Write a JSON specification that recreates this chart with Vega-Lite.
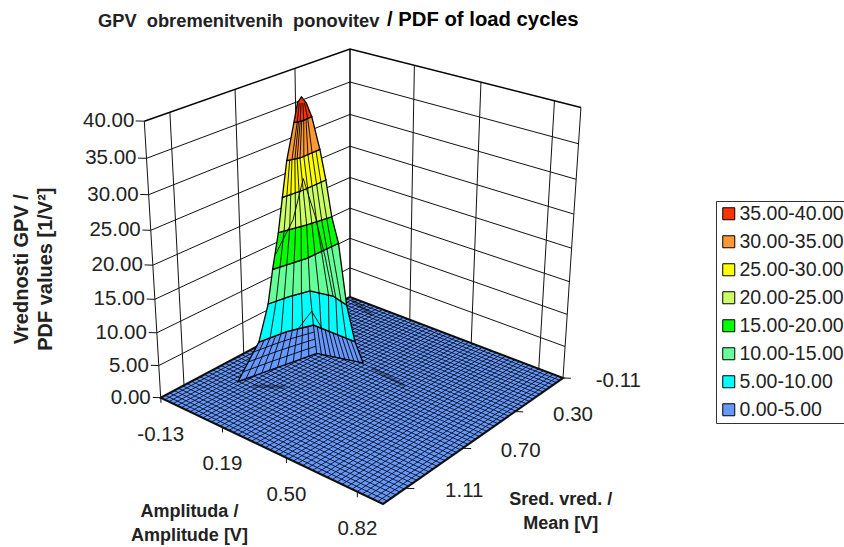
{"$schema":"https://vega.github.io/schema/vega-lite/v6.json","width":844,"height":547,"padding":0,"autosize":{"type":"none"},"background":"white",
"title":{"text":"GPV\u00a0\u00a0obremenitvenih\u00a0\u00a0ponovitev","anchor":"start","frame":"group","orient":"top","offset":-31,"dx":98,"font":"Liberation Sans","fontSize":18.3,"fontWeight":"bold","color":"#222222"},
"config":{"view":{"stroke":null},"text":{"font":"Liberation Sans","color":"#222222"}},
"data":{"values":[
{"g":"wall","id":"z5","ord":1,"amp":-0.13,"mean":1.31,"pdf":5},{"g":"wall","id":"z5","ord":2,"amp":-0.13,"mean":-0.11,"pdf":5},{"g":"wall","id":"z5","ord":3,"amp":0.93,"mean":-0.11,"pdf":5},
{"g":"wall","id":"z10","ord":1,"amp":-0.13,"mean":1.31,"pdf":10},{"g":"wall","id":"z10","ord":2,"amp":-0.13,"mean":-0.11,"pdf":10},{"g":"wall","id":"z10","ord":3,"amp":0.93,"mean":-0.11,"pdf":10},
{"g":"wall","id":"z15","ord":1,"amp":-0.13,"mean":1.31,"pdf":15},{"g":"wall","id":"z15","ord":2,"amp":-0.13,"mean":-0.11,"pdf":15},{"g":"wall","id":"z15","ord":3,"amp":0.93,"mean":-0.11,"pdf":15},
{"g":"wall","id":"z20","ord":1,"amp":-0.13,"mean":1.31,"pdf":20},{"g":"wall","id":"z20","ord":2,"amp":-0.13,"mean":-0.11,"pdf":20},{"g":"wall","id":"z20","ord":3,"amp":0.93,"mean":-0.11,"pdf":20},
{"g":"wall","id":"z25","ord":1,"amp":-0.13,"mean":1.31,"pdf":25},{"g":"wall","id":"z25","ord":2,"amp":-0.13,"mean":-0.11,"pdf":25},{"g":"wall","id":"z25","ord":3,"amp":0.93,"mean":-0.11,"pdf":25},
{"g":"wall","id":"z30","ord":1,"amp":-0.13,"mean":1.31,"pdf":30},{"g":"wall","id":"z30","ord":2,"amp":-0.13,"mean":-0.11,"pdf":30},{"g":"wall","id":"z30","ord":3,"amp":0.93,"mean":-0.11,"pdf":30},
{"g":"wall","id":"z35","ord":1,"amp":-0.13,"mean":1.31,"pdf":35},{"g":"wall","id":"z35","ord":2,"amp":-0.13,"mean":-0.11,"pdf":35},{"g":"wall","id":"z35","ord":3,"amp":0.93,"mean":-0.11,"pdf":35},
{"g":"wall","id":"m1","ord":1,"amp":-0.13,"mean":1.154,"pdf":0},{"g":"wall","id":"m1","ord":2,"amp":-0.13,"mean":1.154,"pdf":40},
{"g":"wall","id":"m2","ord":1,"amp":-0.13,"mean":0.732,"pdf":0},{"g":"wall","id":"m2","ord":2,"amp":-0.13,"mean":0.732,"pdf":40},
{"g":"wall","id":"m3","ord":1,"amp":-0.13,"mean":0.31,"pdf":0},{"g":"wall","id":"m3","ord":2,"amp":-0.13,"mean":0.31,"pdf":40},
{"g":"wall","id":"a1","ord":1,"amp":0.19,"mean":-0.11,"pdf":0},{"g":"wall","id":"a1","ord":2,"amp":0.19,"mean":-0.11,"pdf":40},
{"g":"wall","id":"a2","ord":1,"amp":0.50,"mean":-0.11,"pdf":0},{"g":"wall","id":"a2","ord":2,"amp":0.50,"mean":-0.11,"pdf":40},
{"g":"wall","id":"a3","ord":1,"amp":0.82,"mean":-0.11,"pdf":0},{"g":"wall","id":"a3","ord":2,"amp":0.82,"mean":-0.11,"pdf":40},
{"g":"wall","id":"eL","ord":1,"amp":-0.13,"mean":1.31,"pdf":0},{"g":"wall","id":"eL","ord":2,"amp":-0.13,"mean":1.31,"pdf":40},
{"g":"wall","id":"eR","ord":1,"amp":0.93,"mean":-0.11,"pdf":0},{"g":"wall","id":"eR","ord":2,"amp":0.93,"mean":-0.11,"pdf":40},
{"g":"tick","id":"t0","ord":1,"amp":-0.13,"mean":1.31,"pdf":0},{"g":"tick","id":"t0","ord":2,"amp":-0.154,"mean":1.333,"pdf":0},
{"g":"tick","id":"t5","ord":1,"amp":-0.13,"mean":1.31,"pdf":5},{"g":"tick","id":"t5","ord":2,"amp":-0.154,"mean":1.333,"pdf":5},
{"g":"tick","id":"t10","ord":1,"amp":-0.13,"mean":1.31,"pdf":10},{"g":"tick","id":"t10","ord":2,"amp":-0.154,"mean":1.333,"pdf":10},
{"g":"tick","id":"t15","ord":1,"amp":-0.13,"mean":1.31,"pdf":15},{"g":"tick","id":"t15","ord":2,"amp":-0.154,"mean":1.333,"pdf":15},
{"g":"tick","id":"t20","ord":1,"amp":-0.13,"mean":1.31,"pdf":20},{"g":"tick","id":"t20","ord":2,"amp":-0.154,"mean":1.333,"pdf":20},
{"g":"tick","id":"t25","ord":1,"amp":-0.13,"mean":1.31,"pdf":25},{"g":"tick","id":"t25","ord":2,"amp":-0.154,"mean":1.333,"pdf":25},
{"g":"tick","id":"t30","ord":1,"amp":-0.13,"mean":1.31,"pdf":30},{"g":"tick","id":"t30","ord":2,"amp":-0.154,"mean":1.333,"pdf":30},
{"g":"tick","id":"t35","ord":1,"amp":-0.13,"mean":1.31,"pdf":35},{"g":"tick","id":"t35","ord":2,"amp":-0.154,"mean":1.333,"pdf":35},
{"g":"tick","id":"t40","ord":1,"amp":-0.13,"mean":1.31,"pdf":40},{"g":"tick","id":"t40","ord":2,"amp":-0.154,"mean":1.333,"pdf":40},
{"g":"tick","id":"ta0","ord":1,"amp":-0.13,"mean":1.31,"pdf":0},{"g":"tick","id":"ta0","ord":2,"amp":-0.13,"mean":1.31,"pdf":-0.8},
{"g":"tick","id":"ta1","ord":1,"amp":0.19,"mean":1.31,"pdf":0},{"g":"tick","id":"ta1","ord":2,"amp":0.19,"mean":1.31,"pdf":-0.8},
{"g":"tick","id":"ta2","ord":1,"amp":0.50,"mean":1.31,"pdf":0},{"g":"tick","id":"ta2","ord":2,"amp":0.50,"mean":1.31,"pdf":-0.8},
{"g":"tick","id":"ta3","ord":1,"amp":0.82,"mean":1.31,"pdf":0},{"g":"tick","id":"ta3","ord":2,"amp":0.82,"mean":1.31,"pdf":-0.8},
{"g":"tick","id":"tm0","ord":1,"amp":0.93,"mean":-0.11,"pdf":0},{"g":"tick","id":"tm0","ord":2,"amp":0.954,"mean":-0.133,"pdf":0},
{"g":"tick","id":"tm1","ord":1,"amp":0.93,"mean":0.31,"pdf":0},{"g":"tick","id":"tm1","ord":2,"amp":0.954,"mean":0.287,"pdf":0},
{"g":"tick","id":"tm2","ord":1,"amp":0.93,"mean":0.732,"pdf":0},{"g":"tick","id":"tm2","ord":2,"amp":0.954,"mean":0.709,"pdf":0},
{"g":"tick","id":"tm3","ord":1,"amp":0.93,"mean":1.154,"pdf":0},{"g":"tick","id":"tm3","ord":2,"amp":0.954,"mean":1.131,"pdf":0},
{"g":"frame","id":"top","ord":1,"amp":-0.13,"mean":1.31,"pdf":40},{"g":"frame","id":"top","ord":2,"amp":-0.13,"mean":-0.11,"pdf":40},{"g":"frame","id":"top","ord":3,"amp":0.93,"mean":-0.11,"pdf":40},
{"g":"frame","id":"back","ord":1,"amp":-0.13,"mean":-0.11,"pdf":0},{"g":"frame","id":"back","ord":2,"amp":-0.13,"mean":-0.11,"pdf":40},
{"g":"floor","id":"f","ord":1,"amp":-0.13,"mean":-0.11,"pdf":0},{"g":"floor","id":"f","ord":2,"amp":0.93,"mean":-0.11,"pdf":0},{"g":"floor","id":"f","ord":3,"amp":0.93,"mean":1.31,"pdf":0},{"g":"floor","id":"f","ord":4,"amp":-0.13,"mean":1.31,"pdf":0},
{"g":"mesh","amp":-0.13,"mean":-0.11,"amp2":-0.13,"mean2":1.31,"pdf":0},{"g":"mesh","amp":-0.108,"mean":-0.11,"amp2":-0.108,"mean2":1.31,"pdf":0},{"g":"mesh","amp":-0.086,"mean":-0.11,"amp2":-0.086,"mean2":1.31,"pdf":0},{"g":"mesh","amp":-0.064,"mean":-0.11,"amp2":-0.064,"mean2":1.31,"pdf":0},{"g":"mesh","amp":-0.042,"mean":-0.11,"amp2":-0.042,"mean2":1.31,"pdf":0},{"g":"mesh","amp":-0.02,"mean":-0.11,"amp2":-0.02,"mean2":1.31,"pdf":0},{"g":"mesh","amp":0.002,"mean":-0.11,"amp2":0.002,"mean2":1.31,"pdf":0},{"g":"mesh","amp":0.025,"mean":-0.11,"amp2":0.025,"mean2":1.31,"pdf":0},{"g":"mesh","amp":0.047,"mean":-0.11,"amp2":0.047,"mean2":1.31,"pdf":0},{"g":"mesh","amp":0.069,"mean":-0.11,"amp2":0.069,"mean2":1.31,"pdf":0},{"g":"mesh","amp":0.091,"mean":-0.11,"amp2":0.091,"mean2":1.31,"pdf":0},{"g":"mesh","amp":0.113,"mean":-0.11,"amp2":0.113,"mean2":1.31,"pdf":0},{"g":"mesh","amp":0.135,"mean":-0.11,"amp2":0.135,"mean2":1.31,"pdf":0},{"g":"mesh","amp":0.157,"mean":-0.11,"amp2":0.157,"mean2":1.31,"pdf":0},{"g":"mesh","amp":0.179,"mean":-0.11,"amp2":0.179,"mean2":1.31,"pdf":0},{"g":"mesh","amp":0.201,"mean":-0.11,"amp2":0.201,"mean2":1.31,"pdf":0},{"g":"mesh","amp":0.223,"mean":-0.11,"amp2":0.223,"mean2":1.31,"pdf":0},{"g":"mesh","amp":0.245,"mean":-0.11,"amp2":0.245,"mean2":1.31,"pdf":0},{"g":"mesh","amp":0.267,"mean":-0.11,"amp2":0.267,"mean2":1.31,"pdf":0},{"g":"mesh","amp":0.289,"mean":-0.11,"amp2":0.289,"mean2":1.31,"pdf":0},{"g":"mesh","amp":0.312,"mean":-0.11,"amp2":0.312,"mean2":1.31,"pdf":0},{"g":"mesh","amp":0.334,"mean":-0.11,"amp2":0.334,"mean2":1.31,"pdf":0},{"g":"mesh","amp":0.356,"mean":-0.11,"amp2":0.356,"mean2":1.31,"pdf":0},{"g":"mesh","amp":0.378,"mean":-0.11,"amp2":0.378,"mean2":1.31,"pdf":0},{"g":"mesh","amp":0.4,"mean":-0.11,"amp2":0.4,"mean2":1.31,"pdf":0},{"g":"mesh","amp":0.422,"mean":-0.11,"amp2":0.422,"mean2":1.31,"pdf":0},{"g":"mesh","amp":0.444,"mean":-0.11,"amp2":0.444,"mean2":1.31,"pdf":0},{"g":"mesh","amp":0.466,"mean":-0.11,"amp2":0.466,"mean2":1.31,"pdf":0},{"g":"mesh","amp":0.488,"mean":-0.11,"amp2":0.488,"mean2":1.31,"pdf":0},{"g":"mesh","amp":0.51,"mean":-0.11,"amp2":0.51,"mean2":1.31,"pdf":0},{"g":"mesh","amp":0.532,"mean":-0.11,"amp2":0.532,"mean2":1.31,"pdf":0},{"g":"mesh","amp":0.554,"mean":-0.11,"amp2":0.554,"mean2":1.31,"pdf":0},{"g":"mesh","amp":0.576,"mean":-0.11,"amp2":0.576,"mean2":1.31,"pdf":0},{"g":"mesh","amp":0.599,"mean":-0.11,"amp2":0.599,"mean2":1.31,"pdf":0},{"g":"mesh","amp":0.621,"mean":-0.11,"amp2":0.621,"mean2":1.31,"pdf":0},{"g":"mesh","amp":0.643,"mean":-0.11,"amp2":0.643,"mean2":1.31,"pdf":0},{"g":"mesh","amp":0.665,"mean":-0.11,"amp2":0.665,"mean2":1.31,"pdf":0},{"g":"mesh","amp":0.687,"mean":-0.11,"amp2":0.687,"mean2":1.31,"pdf":0},{"g":"mesh","amp":0.709,"mean":-0.11,"amp2":0.709,"mean2":1.31,"pdf":0},{"g":"mesh","amp":0.731,"mean":-0.11,"amp2":0.731,"mean2":1.31,"pdf":0},{"g":"mesh","amp":0.753,"mean":-0.11,"amp2":0.753,"mean2":1.31,"pdf":0},{"g":"mesh","amp":0.775,"mean":-0.11,"amp2":0.775,"mean2":1.31,"pdf":0},{"g":"mesh","amp":0.797,"mean":-0.11,"amp2":0.797,"mean2":1.31,"pdf":0},{"g":"mesh","amp":0.819,"mean":-0.11,"amp2":0.819,"mean2":1.31,"pdf":0},{"g":"mesh","amp":0.841,"mean":-0.11,"amp2":0.841,"mean2":1.31,"pdf":0},{"g":"mesh","amp":0.863,"mean":-0.11,"amp2":0.863,"mean2":1.31,"pdf":0},{"g":"mesh","amp":0.886,"mean":-0.11,"amp2":0.886,"mean2":1.31,"pdf":0},{"g":"mesh","amp":0.908,"mean":-0.11,"amp2":0.908,"mean2":1.31,"pdf":0},{"g":"mesh","amp":0.93,"mean":-0.11,"amp2":0.93,"mean2":1.31,"pdf":0},
{"g":"mesh","mean":-0.11,"amp":-0.13,"mean2":-0.11,"amp2":0.93,"pdf":0},{"g":"mesh","mean":-0.08,"amp":-0.13,"mean2":-0.08,"amp2":0.93,"pdf":0},{"g":"mesh","mean":-0.051,"amp":-0.13,"mean2":-0.051,"amp2":0.93,"pdf":0},{"g":"mesh","mean":-0.021,"amp":-0.13,"mean2":-0.021,"amp2":0.93,"pdf":0},{"g":"mesh","mean":0.008,"amp":-0.13,"mean2":0.008,"amp2":0.93,"pdf":0},{"g":"mesh","mean":0.038,"amp":-0.13,"mean2":0.038,"amp2":0.93,"pdf":0},{"g":"mesh","mean":0.068,"amp":-0.13,"mean2":0.068,"amp2":0.93,"pdf":0},{"g":"mesh","mean":0.097,"amp":-0.13,"mean2":0.097,"amp2":0.93,"pdf":0},{"g":"mesh","mean":0.127,"amp":-0.13,"mean2":0.127,"amp2":0.93,"pdf":0},{"g":"mesh","mean":0.156,"amp":-0.13,"mean2":0.156,"amp2":0.93,"pdf":0},{"g":"mesh","mean":0.186,"amp":-0.13,"mean2":0.186,"amp2":0.93,"pdf":0},{"g":"mesh","mean":0.215,"amp":-0.13,"mean2":0.215,"amp2":0.93,"pdf":0},{"g":"mesh","mean":0.245,"amp":-0.13,"mean2":0.245,"amp2":0.93,"pdf":0},{"g":"mesh","mean":0.275,"amp":-0.13,"mean2":0.275,"amp2":0.93,"pdf":0},{"g":"mesh","mean":0.304,"amp":-0.13,"mean2":0.304,"amp2":0.93,"pdf":0},{"g":"mesh","mean":0.334,"amp":-0.13,"mean2":0.334,"amp2":0.93,"pdf":0},{"g":"mesh","mean":0.363,"amp":-0.13,"mean2":0.363,"amp2":0.93,"pdf":0},{"g":"mesh","mean":0.393,"amp":-0.13,"mean2":0.393,"amp2":0.93,"pdf":0},{"g":"mesh","mean":0.423,"amp":-0.13,"mean2":0.423,"amp2":0.93,"pdf":0},{"g":"mesh","mean":0.452,"amp":-0.13,"mean2":0.452,"amp2":0.93,"pdf":0},{"g":"mesh","mean":0.482,"amp":-0.13,"mean2":0.482,"amp2":0.93,"pdf":0},{"g":"mesh","mean":0.511,"amp":-0.13,"mean2":0.511,"amp2":0.93,"pdf":0},{"g":"mesh","mean":0.541,"amp":-0.13,"mean2":0.541,"amp2":0.93,"pdf":0},{"g":"mesh","mean":0.57,"amp":-0.13,"mean2":0.57,"amp2":0.93,"pdf":0},{"g":"mesh","mean":0.6,"amp":-0.13,"mean2":0.6,"amp2":0.93,"pdf":0},{"g":"mesh","mean":0.63,"amp":-0.13,"mean2":0.63,"amp2":0.93,"pdf":0},{"g":"mesh","mean":0.659,"amp":-0.13,"mean2":0.659,"amp2":0.93,"pdf":0},{"g":"mesh","mean":0.689,"amp":-0.13,"mean2":0.689,"amp2":0.93,"pdf":0},{"g":"mesh","mean":0.718,"amp":-0.13,"mean2":0.718,"amp2":0.93,"pdf":0},{"g":"mesh","mean":0.748,"amp":-0.13,"mean2":0.748,"amp2":0.93,"pdf":0},{"g":"mesh","mean":0.778,"amp":-0.13,"mean2":0.778,"amp2":0.93,"pdf":0},{"g":"mesh","mean":0.807,"amp":-0.13,"mean2":0.807,"amp2":0.93,"pdf":0},{"g":"mesh","mean":0.837,"amp":-0.13,"mean2":0.837,"amp2":0.93,"pdf":0},{"g":"mesh","mean":0.866,"amp":-0.13,"mean2":0.866,"amp2":0.93,"pdf":0},{"g":"mesh","mean":0.896,"amp":-0.13,"mean2":0.896,"amp2":0.93,"pdf":0},{"g":"mesh","mean":0.925,"amp":-0.13,"mean2":0.925,"amp2":0.93,"pdf":0},{"g":"mesh","mean":0.955,"amp":-0.13,"mean2":0.955,"amp2":0.93,"pdf":0},{"g":"mesh","mean":0.985,"amp":-0.13,"mean2":0.985,"amp2":0.93,"pdf":0},{"g":"mesh","mean":1.014,"amp":-0.13,"mean2":1.014,"amp2":0.93,"pdf":0},{"g":"mesh","mean":1.044,"amp":-0.13,"mean2":1.044,"amp2":0.93,"pdf":0},{"g":"mesh","mean":1.073,"amp":-0.13,"mean2":1.073,"amp2":0.93,"pdf":0},{"g":"mesh","mean":1.103,"amp":-0.13,"mean2":1.103,"amp2":0.93,"pdf":0},{"g":"mesh","mean":1.133,"amp":-0.13,"mean2":1.133,"amp2":0.93,"pdf":0},{"g":"mesh","mean":1.162,"amp":-0.13,"mean2":1.162,"amp2":0.93,"pdf":0},{"g":"mesh","mean":1.192,"amp":-0.13,"mean2":1.192,"amp2":0.93,"pdf":0},{"g":"mesh","mean":1.221,"amp":-0.13,"mean2":1.221,"amp2":0.93,"pdf":0},{"g":"mesh","mean":1.251,"amp":-0.13,"mean2":1.251,"amp2":0.93,"pdf":0},{"g":"mesh","mean":1.28,"amp":-0.13,"mean2":1.28,"amp2":0.93,"pdf":0},{"g":"mesh","mean":1.31,"amp":-0.13,"mean2":1.31,"amp2":0.93,"pdf":0},
{"g":"smear","id":"s1","ord":1,"amp":0.326,"mean":0.425,"pdf":0},{"g":"smear","id":"s1","ord":2,"amp":0.508,"mean":0.459,"pdf":0},
{"g":"smear","id":"s2","ord":1,"amp":0.072,"mean":0.94,"pdf":0},{"g":"smear","id":"s2","ord":2,"amp":0.169,"mean":0.846,"pdf":0},
{"g":"smear","id":"s3","ord":1,"amp":-0.106,"mean":-0.089,"pdf":0},{"g":"smear","id":"s3","ord":2,"amp":0.045,"mean":-0.022,"pdf":0},
{"g":"band","band":"0.00-5.00","ord":1,"amp":0.006,"mean":0.958,"pdf":0},{"g":"band","band":"0.00-5.00","ord":2,"amp":0.026,"mean":0.829,"pdf":5},{"g":"band","band":"0.00-5.00","ord":3,"amp":0.05,"mean":0.66,"pdf":5},{"g":"band","band":"0.00-5.00","ord":4,"amp":0.092,"mean":0.52,"pdf":5},{"g":"band","band":"0.00-5.00","ord":5,"amp":0.192,"mean":0.52,"pdf":5},{"g":"band","band":"0.00-5.00","ord":6,"amp":0.301,"mean":0.519,"pdf":5},{"g":"band","band":"0.00-5.00","ord":7,"amp":0.275,"mean":0.414,"pdf":0},{"g":"band","band":"0.00-5.00","ord":8,"amp":0.169,"mean":0.61,"pdf":2.5},
{"g":"band","band":"5.00-10.00","ord":1,"amp":0.026,"mean":0.829,"pdf":5},{"g":"band","band":"5.00-10.00","ord":2,"amp":0.05,"mean":0.66,"pdf":5},{"g":"band","band":"5.00-10.00","ord":3,"amp":0.092,"mean":0.52,"pdf":5},{"g":"band","band":"5.00-10.00","ord":4,"amp":0.192,"mean":0.52,"pdf":5},{"g":"band","band":"5.00-10.00","ord":5,"amp":0.301,"mean":0.519,"pdf":5},{"g":"band","band":"5.00-10.00","ord":6,"amp":0.253,"mean":0.508,"pdf":10},{"g":"band","band":"5.00-10.00","ord":7,"amp":0.164,"mean":0.476,"pdf":10},{"g":"band","band":"5.00-10.00","ord":8,"amp":0.068,"mean":0.508,"pdf":10},{"g":"band","band":"5.00-10.00","ord":9,"amp":0.039,"mean":0.628,"pdf":10},{"g":"band","band":"5.00-10.00","ord":10,"amp":0.021,"mean":0.749,"pdf":10},
{"g":"band","band":"10.00-15.00","ord":1,"amp":0.021,"mean":0.749,"pdf":10},{"g":"band","band":"10.00-15.00","ord":2,"amp":0.039,"mean":0.628,"pdf":10},{"g":"band","band":"10.00-15.00","ord":3,"amp":0.068,"mean":0.508,"pdf":10},{"g":"band","band":"10.00-15.00","ord":4,"amp":0.164,"mean":0.476,"pdf":10},{"g":"band","band":"10.00-15.00","ord":5,"amp":0.253,"mean":0.508,"pdf":10},{"g":"band","band":"10.00-15.00","ord":6,"amp":0.059,"mean":0.273,"pdf":15},{"g":"band","band":"10.00-15.00","ord":7,"amp":0.056,"mean":0.512,"pdf":15},{"g":"band","band":"10.00-15.00","ord":8,"amp":0.023,"mean":0.714,"pdf":15},
{"g":"band","band":"15.00-20.00","ord":1,"amp":0.023,"mean":0.714,"pdf":15},{"g":"band","band":"15.00-20.00","ord":2,"amp":0.056,"mean":0.512,"pdf":15},{"g":"band","band":"15.00-20.00","ord":3,"amp":0.059,"mean":0.273,"pdf":15},{"g":"band","band":"15.00-20.00","ord":4,"amp":0.074,"mean":0.347,"pdf":20},{"g":"band","band":"15.00-20.00","ord":5,"amp":0.052,"mean":0.503,"pdf":20},{"g":"band","band":"15.00-20.00","ord":6,"amp":0.019,"mean":0.662,"pdf":20},
{"g":"band","band":"20.00-25.00","ord":1,"amp":0.019,"mean":0.662,"pdf":20},{"g":"band","band":"20.00-25.00","ord":2,"amp":0.052,"mean":0.503,"pdf":20},{"g":"band","band":"20.00-25.00","ord":3,"amp":0.074,"mean":0.347,"pdf":20},{"g":"band","band":"20.00-25.00","ord":4,"amp":0.032,"mean":0.327,"pdf":25},{"g":"band","band":"20.00-25.00","ord":5,"amp":0.033,"mean":0.496,"pdf":25},{"g":"band","band":"20.00-25.00","ord":6,"amp":0.021,"mean":0.631,"pdf":25},
{"g":"band","band":"25.00-30.00","ord":1,"amp":0.021,"mean":0.631,"pdf":25},{"g":"band","band":"25.00-30.00","ord":2,"amp":0.033,"mean":0.496,"pdf":25},{"g":"band","band":"25.00-30.00","ord":3,"amp":0.032,"mean":0.327,"pdf":25},{"g":"band","band":"25.00-30.00","ord":4,"amp":0.034,"mean":0.373,"pdf":30},{"g":"band","band":"25.00-30.00","ord":5,"amp":0.037,"mean":0.523,"pdf":30},{"g":"band","band":"25.00-30.00","ord":6,"amp":0.018,"mean":0.591,"pdf":30},
{"g":"band","band":"30.00-35.00","ord":1,"amp":0.018,"mean":0.591,"pdf":30},{"g":"band","band":"30.00-35.00","ord":2,"amp":0.037,"mean":0.523,"pdf":30},{"g":"band","band":"30.00-35.00","ord":3,"amp":0.034,"mean":0.373,"pdf":30},{"g":"band","band":"30.00-35.00","ord":4,"amp":0.023,"mean":0.414,"pdf":35},{"g":"band","band":"30.00-35.00","ord":5,"amp":0.026,"mean":0.491,"pdf":35},{"g":"band","band":"30.00-35.00","ord":6,"amp":0.016,"mean":0.533,"pdf":35},
{"g":"band","band":"35.00-40.00","ord":1,"amp":0.016,"mean":0.533,"pdf":35},{"g":"band","band":"35.00-40.00","ord":2,"amp":0.026,"mean":0.491,"pdf":35},{"g":"band","band":"35.00-40.00","ord":3,"amp":0.023,"mean":0.414,"pdf":35},{"g":"band","band":"35.00-40.00","ord":4,"amp":-0.001,"mean":0.417,"pdf":36.8},{"g":"band","band":"35.00-40.00","ord":5,"amp":-0.018,"mean":0.427,"pdf":37.6},{"g":"band","band":"35.00-40.00","ord":6,"amp":-0.026,"mean":0.445,"pdf":36.8},
{"g":"line","id":"t1","ord":1,"amp":0.039,"mean":0.888,"pdf":0.5},{"g":"line","id":"t1","ord":2,"amp":0.035,"mean":0.76,"pdf":5},{"g":"line","id":"t1","ord":3,"amp":0.028,"mean":0.701,"pdf":10},{"g":"line","id":"t1","ord":4,"amp":0.026,"mean":0.631,"pdf":20},{"g":"line","id":"t1","ord":5,"amp":0.023,"mean":0.577,"pdf":30},
{"g":"line","id":"t2","ord":1,"amp":0.071,"mean":0.819,"pdf":1},{"g":"line","id":"t2","ord":2,"amp":0.045,"mean":0.694,"pdf":5},{"g":"line","id":"t2","ord":3,"amp":0.035,"mean":0.653,"pdf":10},{"g":"line","id":"t2","ord":4,"amp":0.032,"mean":0.599,"pdf":20},{"g":"line","id":"t2","ord":5,"amp":0.026,"mean":0.565,"pdf":30},{"g":"line","id":"t2","ord":6,"amp":0.021,"mean":0.516,"pdf":35},{"g":"line","id":"t2","ord":7,"amp":-0.021,"mean":0.439,"pdf":36.8},
{"g":"line","id":"t3","ord":1,"amp":0.104,"mean":0.749,"pdf":1.5},{"g":"line","id":"t3","ord":2,"amp":0.059,"mean":0.631,"pdf":5},{"g":"line","id":"t3","ord":3,"amp":0.045,"mean":0.604,"pdf":10},{"g":"line","id":"t3","ord":4,"amp":0.04,"mean":0.567,"pdf":20},{"g":"line","id":"t3","ord":5,"amp":0.03,"mean":0.55,"pdf":30},{"g":"line","id":"t3","ord":6,"amp":0.022,"mean":0.508,"pdf":35},
{"g":"line","id":"t4","ord":1,"amp":0.136,"mean":0.68,"pdf":2},{"g":"line","id":"t4","ord":2,"amp":0.075,"mean":0.576,"pdf":5},{"g":"line","id":"t4","ord":3,"amp":0.057,"mean":0.556,"pdf":10},{"g":"line","id":"t4","ord":4,"amp":0.046,"mean":0.535,"pdf":20},{"g":"line","id":"t4","ord":5,"amp":0.033,"mean":0.538,"pdf":30},{"g":"line","id":"t4","ord":6,"amp":0.024,"mean":0.499,"pdf":35},{"g":"line","id":"t4","ord":7,"amp":-0.016,"mean":0.434,"pdf":36.8},
{"g":"line","id":"t5","ord":1,"amp":0.169,"mean":0.61,"pdf":2.5},{"g":"line","id":"t5","ord":2,"amp":0.092,"mean":0.52,"pdf":5},{"g":"line","id":"t5","ord":3,"amp":0.068,"mean":0.508,"pdf":10},{"g":"line","id":"t5","ord":4,"amp":0.052,"mean":0.503,"pdf":20},{"g":"line","id":"t5","ord":5,"amp":0.037,"mean":0.523,"pdf":30},{"g":"line","id":"t5","ord":6,"amp":0.026,"mean":0.491,"pdf":35},
{"g":"line","id":"t6","ord":1,"amp":0.19,"mean":0.571,"pdf":2},{"g":"line","id":"t6","ord":2,"amp":0.132,"mean":0.52,"pdf":5},{"g":"line","id":"t6","ord":3,"amp":0.106,"mean":0.495,"pdf":10},{"g":"line","id":"t6","ord":4,"amp":0.057,"mean":0.472,"pdf":20},{"g":"line","id":"t6","ord":5,"amp":0.036,"mean":0.494,"pdf":30},{"g":"line","id":"t6","ord":6,"amp":0.025,"mean":0.475,"pdf":35},{"g":"line","id":"t6","ord":7,"amp":-0.011,"mean":0.428,"pdf":36.8},
{"g":"line","id":"t7","ord":1,"amp":0.211,"mean":0.532,"pdf":1.5},{"g":"line","id":"t7","ord":2,"amp":0.172,"mean":0.52,"pdf":5},{"g":"line","id":"t7","ord":3,"amp":0.145,"mean":0.482,"pdf":10},{"g":"line","id":"t7","ord":4,"amp":0.061,"mean":0.441,"pdf":20},{"g":"line","id":"t7","ord":5,"amp":0.036,"mean":0.464,"pdf":30},{"g":"line","id":"t7","ord":6,"amp":0.025,"mean":0.459,"pdf":35},
{"g":"line","id":"t8","ord":1,"amp":0.233,"mean":0.492,"pdf":1},{"g":"line","id":"t8","ord":2,"amp":0.215,"mean":0.52,"pdf":5},{"g":"line","id":"t8","ord":3,"amp":0.182,"mean":0.482,"pdf":10},{"g":"line","id":"t8","ord":4,"amp":0.065,"mean":0.41,"pdf":20},{"g":"line","id":"t8","ord":5,"amp":0.035,"mean":0.432,"pdf":30},{"g":"line","id":"t8","ord":6,"amp":0.024,"mean":0.445,"pdf":35},{"g":"line","id":"t8","ord":7,"amp":-0.006,"mean":0.423,"pdf":36.8},
{"g":"line","id":"t9","ord":1,"amp":0.254,"mean":0.453,"pdf":0.5},{"g":"line","id":"t9","ord":2,"amp":0.258,"mean":0.519,"pdf":5},{"g":"line","id":"t9","ord":3,"amp":0.217,"mean":0.495,"pdf":10},{"g":"line","id":"t9","ord":4,"amp":0.069,"mean":0.378,"pdf":20},{"g":"line","id":"t9","ord":5,"amp":0.035,"mean":0.403,"pdf":30},
{"g":"line","id":"h1","ord":1,"amp":0.1795,"mean":0.5905,"pdf":2.25},{"g":"line","id":"h1","ord":2,"amp":0.112,"mean":0.52,"pdf":5},
{"g":"line","id":"h2","ord":1,"amp":0.2005,"mean":0.5515,"pdf":1.75},{"g":"line","id":"h2","ord":2,"amp":0.152,"mean":0.52,"pdf":5},
{"g":"line","id":"h3","ord":1,"amp":0.222,"mean":0.512,"pdf":1.25},{"g":"line","id":"h3","ord":2,"amp":0.192,"mean":0.52,"pdf":5},
{"g":"line","id":"h4","ord":1,"amp":0.2435,"mean":0.4725,"pdf":0.75},{"g":"line","id":"h4","ord":2,"amp":0.2365,"mean":0.52,"pdf":5},
{"g":"line","id":"h5","ord":1,"amp":0.2645,"mean":0.4335,"pdf":0.25},{"g":"line","id":"h5","ord":2,"amp":0.28,"mean":0.519,"pdf":5},
{"g":"line","id":"h6","ord":1,"amp":0.055,"mean":0.853,"pdf":0.75},{"g":"line","id":"h6","ord":2,"amp":0.04,"mean":0.727,"pdf":5},
{"g":"line","id":"h7","ord":1,"amp":0.0875,"mean":0.784,"pdf":1.25},{"g":"line","id":"h7","ord":2,"amp":0.05,"mean":0.66,"pdf":5},
{"g":"line","id":"h8","ord":1,"amp":0.12,"mean":0.7145,"pdf":1.75},{"g":"line","id":"h8","ord":2,"amp":0.067,"mean":0.603,"pdf":5},
{"g":"line","id":"h9","ord":1,"amp":0.1525,"mean":0.645,"pdf":2.25},{"g":"line","id":"h9","ord":2,"amp":0.0835,"mean":0.548,"pdf":5},
{"g":"line","id":"h0","ord":1,"amp":0.0225,"mean":0.923,"pdf":0.25},{"g":"line","id":"h0","ord":2,"amp":0.03,"mean":0.794,"pdf":5},
{"g":"line","id":"c1","ord":1,"amp":0.016,"mean":0.8935,"pdf":2.5},{"g":"line","id":"c1","ord":2,"amp":0.037,"mean":0.824,"pdf":2.75},{"g":"line","id":"c1","ord":3,"amp":0.058,"mean":0.7565,"pdf":3},{"g":"line","id":"c1","ord":4,"amp":0.0815,"mean":0.69,"pdf":3.25},{"g":"line","id":"c1","ord":5,"amp":0.1055,"mean":0.628,"pdf":3.5},{"g":"line","id":"c1","ord":6,"amp":0.1305,"mean":0.565,"pdf":3.75},
{"g":"line","id":"c2","ord":1,"amp":0.021,"mean":0.861,"pdf":3.75},{"g":"line","id":"c2","ord":2,"amp":0.036,"mean":0.792,"pdf":3.875},{"g":"line","id":"c2","ord":3,"amp":0.0515,"mean":0.725,"pdf":4},{"g":"line","id":"c2","ord":4,"amp":0.07,"mean":0.66,"pdf":4.125},{"g":"line","id":"c2","ord":5,"amp":0.09,"mean":0.602,"pdf":4.25},{"g":"line","id":"c2","ord":6,"amp":0.111,"mean":0.5425,"pdf":4.375},
{"g":"line","id":"c3","ord":1,"amp":0.011,"mean":0.9255,"pdf":1.25},{"g":"line","id":"c3","ord":2,"amp":0.038,"mean":0.856,"pdf":1.625},{"g":"line","id":"c3","ord":3,"amp":0.0645,"mean":0.788,"pdf":2},{"g":"line","id":"c3","ord":4,"amp":0.093,"mean":0.7195,"pdf":2.375},{"g":"line","id":"c3","ord":5,"amp":0.1205,"mean":0.654,"pdf":2.75},{"g":"line","id":"c3","ord":6,"amp":0.15,"mean":0.5875,"pdf":3.125},
{"g":"line","id":"r1","ord":1,"amp":0.022,"mean":0.69,"pdf":17},{"g":"line","id":"r1","ord":2,"amp":0.036,"mean":0.579,"pdf":21.3},{"g":"line","id":"r1","ord":3,"amp":0.033,"mean":0.496,"pdf":26.7},{"g":"line","id":"r1","ord":4,"amp":0.06,"mean":0.452,"pdf":21},{"g":"line","id":"r1","ord":5,"amp":0.058,"mean":0.374,"pdf":13.7},{"g":"line","id":"r1","ord":6,"amp":0.164,"mean":0.476,"pdf":10},
{"g":"line","id":"r2","ord":1,"amp":0.068,"mean":0.601,"pdf":5},{"g":"line","id":"r2","ord":2,"amp":0.08,"mean":0.514,"pdf":7},{"g":"line","id":"r2","ord":3,"amp":0.137,"mean":0.52,"pdf":5},
{"g":"ztxt","amp":-0.13,"mean":1.31,"pdf":0,"txt":"0.00"},{"g":"ztxt","amp":-0.13,"mean":1.31,"pdf":5,"txt":"5.00"},{"g":"ztxt","amp":-0.13,"mean":1.31,"pdf":10,"txt":"10.00"},{"g":"ztxt","amp":-0.13,"mean":1.31,"pdf":15,"txt":"15.00"},{"g":"ztxt","amp":-0.13,"mean":1.31,"pdf":20,"txt":"20.00"},{"g":"ztxt","amp":-0.13,"mean":1.31,"pdf":25,"txt":"25.00"},{"g":"ztxt","amp":-0.13,"mean":1.31,"pdf":30,"txt":"30.00"},{"g":"ztxt","amp":-0.13,"mean":1.31,"pdf":35,"txt":"35.00"},{"g":"ztxt","amp":-0.13,"mean":1.31,"pdf":40,"txt":"40.00"},
{"g":"atxt","amp":-0.13,"mean":1.31,"pdf":0,"txt":"-0.13"},{"g":"atxt","amp":0.19,"mean":1.31,"pdf":0,"txt":"0.19"},{"g":"atxt","amp":0.50,"mean":1.31,"pdf":0,"txt":"0.50"},{"g":"atxt","amp":0.82,"mean":1.31,"pdf":0,"txt":"0.82"},
{"g":"mtxt","amp":0.93,"mean":-0.11,"pdf":0,"txt":"-0.11"},{"g":"mtxt","amp":0.93,"mean":0.31,"pdf":0,"txt":"0.30"},{"g":"mtxt","amp":0.93,"mean":0.732,"pdf":0,"txt":"0.70"},{"g":"mtxt","amp":0.93,"mean":1.154,"pdf":0,"txt":"1.11"},
{"g":"ttl2","amp":-0.13,"mean":-0.11,"pdf":40,"txt":"/ PDF of load cycles"},
{"g":"ztitle","amp":-0.13,"mean":1.31,"pdf":20,"txt":"Vrednosti GPV /\nPDF values [1/V²]"},
{"g":"atitle","amp":0.19,"mean":1.31,"pdf":0,"txt":"Amplituda /\nAmplitude [V]"},
{"g":"mtitle","amp":0.93,"mean":0.70,"pdf":0,"txt":"Sred. vred. /\nMean [V]"}
]},
"transform":[
{"calculate":"(datum.amp+0.13)/1.06","as":"u"},{"calculate":"(datum.mean+0.11)/1.42","as":"v"},{"calculate":"datum.pdf/40","as":"w"},
{"calculate":"1-0.09833*datum.u-0.12145*datum.v-0.07*datum.w","as":"d"},
{"calculate":"(350+157.64*datum.u-208.82*datum.v-24.5*datum.w)/datum.d","as":"sx"},
{"calculate":"(297+43.83*datum.u+52.4*datum.v-251.43*datum.w)/datum.d","as":"sy"},
{"calculate":"(datum.amp2+0.13)/1.06","as":"u2"},{"calculate":"(datum.mean2+0.11)/1.42","as":"v2"},
{"calculate":"1-0.09833*datum.u2-0.12145*datum.v2","as":"d2"},
{"calculate":"(350+157.64*datum.u2-208.82*datum.v2)/datum.d2","as":"sx2"},
{"calculate":"(297+43.83*datum.u2+52.4*datum.v2)/datum.d2","as":"sy2"}
],
"encoding":{"x":{"field":"sx","type":"quantitative","scale":{"domain":[0,844],"nice":false,"zero":false},"axis":null},"y":{"field":"sy","type":"quantitative","scale":{"domain":[547,0],"nice":false,"zero":false},"axis":null}},
"layer":[
{"transform":[{"filter":"datum.g==='wall'||datum.g==='tick'"}],"mark":{"type":"line","stroke":"#111111","strokeWidth":1},"encoding":{"detail":{"field":"id"},"order":{"field":"ord"}}},
{"transform":[{"filter":"datum.g==='frame'"}],"mark":{"type":"line","stroke":"#000000","strokeWidth":1.5},"encoding":{"detail":{"field":"id"},"order":{"field":"ord"}}},
{"transform":[{"filter":"datum.g==='floor'"}],"mark":{"type":"line","filled":true,"interpolate":"linear-closed","fill":"#6699FF","stroke":"#222222","strokeWidth":2.2},"encoding":{"detail":{"field":"id"},"order":{"field":"ord"}}},
{"transform":[{"filter":"datum.g==='mesh'"}],"mark":{"type":"rule","stroke":"#000000","strokeWidth":0.8},"encoding":{"x2":{"field":"sx2"},"y2":{"field":"sy2"}}},
{"transform":[{"filter":"datum.g==='smear'"}],"mark":{"type":"line","stroke":"#000000","strokeWidth":3.5,"opacity":0.35},"encoding":{"detail":{"field":"id"},"order":{"field":"ord"}}},
{"transform":[{"filter":"datum.g==='band'"}],"mark":{"type":"line","filled":true,"interpolate":"linear-closed","stroke":"#000000","strokeWidth":1.3},"encoding":{"order":{"field":"ord"},"color":{"field":"band","type":"nominal","scale":{"domain":["35.00-40.00","30.00-35.00","25.00-30.00","20.00-25.00","15.00-20.00","10.00-15.00","5.00-10.00","0.00-5.00"],"range":["#FF3300","#FF9933","#FFFF00","#CCFF66","#00FF00","#66FF99","#00FFFF","#6699FF"]},"legend":{"title":null,"orient":"none","legendX":716,"legendY":201,"padding":3,"fillColor":"white","strokeColor":"#333333","symbolType":"square","symbolSize":144,"symbolStrokeColor":"#000000","symbolStrokeWidth":1,"symbolOpacity":1,"labelFont":"Liberation Sans","labelFontSize":19.5,"labelColor":"#222222","labelOffset":1,"rowPadding":7,"labelLimit":300}}}},
{"transform":[{"filter":"datum.g==='line'"}],"mark":{"type":"line","stroke":"#000000","strokeWidth":0.9},"encoding":{"detail":{"field":"id"},"order":{"field":"ord"}}},
{"transform":[{"filter":"datum.g==='ztxt'"}],"mark":{"type":"text","align":"right","baseline":"middle","dx":-10,"fontSize":20.5},"encoding":{"text":{"field":"txt"}}},
{"transform":[{"filter":"datum.g==='atxt'"}],"mark":{"type":"text","align":"center","baseline":"middle","dy":37,"fontSize":20.5},"encoding":{"text":{"field":"txt"}}},
{"transform":[{"filter":"datum.g==='mtxt'"}],"mark":{"type":"text","align":"right","baseline":"middle","dx":78,"dy":3,"fontSize":20.5},"encoding":{"text":{"field":"txt"}}},
{"transform":[{"filter":"datum.g==='ttl2'"}],"mark":{"type":"text","align":"left","baseline":"middle","dx":37,"dy":-29,"fontSize":20.3,"fontWeight":"bold","color":"#000000"},"encoding":{"text":{"field":"txt"}}},
{"transform":[{"filter":"datum.g==='ztitle'"}],"mark":{"type":"text","align":"center","baseline":"top","angle":270,"lineBreak":"\n","lineHeight":24,"dx":-4,"dy":-141,"fontSize":20,"fontWeight":"bold"},"encoding":{"text":{"field":"txt"}}},
{"transform":[{"filter":"datum.g==='atitle'"}],"mark":{"type":"text","align":"center","baseline":"top","lineBreak":"\n","lineHeight":24,"dx":-33,"dy":76,"fontSize":18,"fontWeight":"bold"},"encoding":{"text":{"field":"txt"}}},
{"transform":[{"filter":"datum.g==='mtitle'"}],"mark":{"type":"text","align":"center","baseline":"top","lineBreak":"\n","lineHeight":24,"dx":94,"dy":46,"fontSize":18,"fontWeight":"bold"},"encoding":{"text":{"field":"txt"}}}
]}
